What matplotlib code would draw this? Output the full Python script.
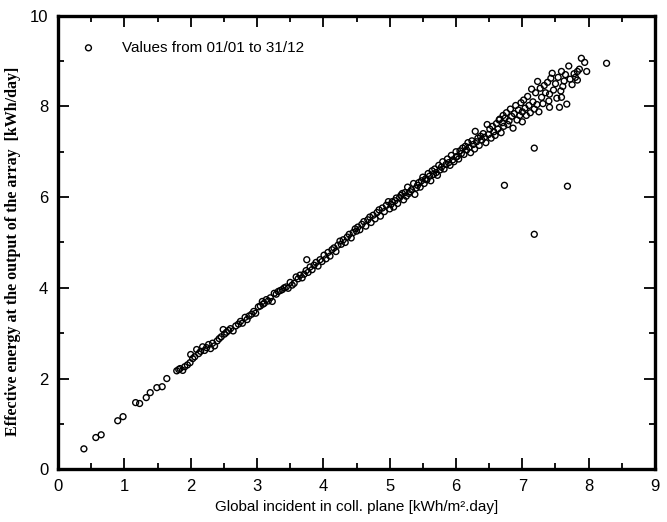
import matplotlib
matplotlib.use("Agg")
import matplotlib.pyplot as plt
from matplotlib.ticker import MultipleLocator

# daily values: global incident irradiation vs. effective array output energy
incident = [
    0.39, 0.57, 0.65, 0.90, 0.98, 1.17, 1.23, 1.33, 1.39, 1.49, 1.57, 1.64, 1.79,
    1.82, 1.84, 1.88, 1.91, 1.95, 1.99, 2.00, 2.03, 2.06, 2.09, 2.12, 2.15,
    2.18, 2.21, 2.24, 2.27, 2.30, 2.33, 2.36, 2.40, 2.43, 2.46, 2.49, 2.51, 2.54,
    2.57, 2.60, 2.64, 2.68, 2.72, 2.75, 2.78, 2.82, 2.85, 2.88, 2.92, 2.95, 2.98,
    3.02, 3.05, 3.08, 3.09, 3.11, 3.14, 3.17, 3.20, 3.23, 3.26, 3.29, 3.32, 3.35,
    3.38, 3.41, 3.44, 3.47, 3.50, 3.53, 3.56, 3.59, 3.62, 3.65, 3.68, 3.71, 3.74,
    3.75, 3.77, 3.80, 3.83, 3.86, 3.89, 3.92, 3.95, 3.98,
    4.01, 4.04, 4.07, 4.10, 4.13, 4.16, 4.19, 4.22, 4.25, 4.27, 4.30, 4.33, 4.36,
    4.39, 4.42, 4.45, 4.48, 4.50, 4.52, 4.55, 4.58, 4.61, 4.64, 4.67, 4.70, 4.72,
    4.75, 4.78, 4.81, 4.84, 4.86, 4.89, 4.92, 4.95, 4.98, 5.00,
    5.02, 5.04, 5.06, 5.08, 5.10, 5.12, 5.15, 5.17, 5.19, 5.21, 5.23, 5.25, 5.27,
    5.29, 5.31, 5.33, 5.36, 5.38, 5.40, 5.42, 5.44, 5.46, 5.48, 5.50, 5.52, 5.54,
    5.56, 5.58, 5.60, 5.62, 5.64, 5.66, 5.68, 5.70, 5.72, 5.74, 5.76, 5.78, 5.80,
    5.82, 5.85, 5.87, 5.89, 5.91, 5.93, 5.95, 5.97, 6.00, 6.00,
    6.02, 6.04, 6.06, 6.08, 6.10, 6.12, 6.14, 6.16, 6.18, 6.20, 6.22, 6.24, 6.26,
    6.28, 6.29, 6.31, 6.33, 6.35, 6.37, 6.39, 6.41, 6.43, 6.45, 6.47, 6.49, 6.51,
    6.53, 6.55, 6.57, 6.59, 6.61, 6.63, 6.65, 6.66, 6.68, 6.70, 6.71, 6.72, 6.73,
    6.74, 6.76, 6.78, 6.80, 6.82, 6.84, 6.86, 6.88, 6.90, 6.92, 6.94, 6.96, 6.98,
    7.00, 7.00,
    7.02, 7.04, 7.06, 7.08, 7.10, 7.12, 7.14, 7.16, 7.18, 7.18, 7.18, 7.20, 7.22,
    7.23, 7.25, 7.27, 7.29, 7.31, 7.33, 7.35, 7.38, 7.40, 7.41, 7.41, 7.43, 7.45,
    7.47, 7.50, 7.52, 7.54, 7.56, 7.58, 7.59, 7.59, 7.61, 7.63, 7.65, 7.67, 7.68,
    7.70, 7.72, 7.75, 7.78, 7.80, 7.83, 7.83, 7.86, 7.89, 7.94, 7.97, 8.27,
]
energy = [
    0.45, 0.70, 0.76, 1.07, 1.16, 1.47, 1.45, 1.58, 1.69, 1.80, 1.82, 2.00, 2.17,
    2.20, 2.22, 2.18, 2.26, 2.30, 2.35, 2.53, 2.44, 2.48, 2.64, 2.55, 2.60,
    2.70, 2.62, 2.68, 2.75, 2.66, 2.78, 2.72, 2.83, 2.88, 2.92, 3.08, 2.98, 3.02,
    3.06, 3.10, 3.05, 3.16, 3.20, 3.26, 3.22, 3.35, 3.30, 3.38, 3.42, 3.48, 3.44,
    3.58, 3.60, 3.70, 3.64, 3.66, 3.74, 3.71, 3.78, 3.70, 3.88, 3.86, 3.92, 3.94,
    3.96, 4.00, 4.02, 3.99, 4.12, 4.06, 4.10, 4.24, 4.20, 4.28, 4.22, 4.30, 4.38,
    4.62, 4.34, 4.46, 4.40, 4.50, 4.56, 4.48, 4.62, 4.58,
    4.72, 4.64, 4.78, 4.70, 4.84, 4.88, 4.80, 4.94, 5.03, 4.96, 5.06, 5.00, 5.12,
    5.18, 5.10, 5.22, 5.30, 5.25, 5.34, 5.28, 5.40, 5.46, 5.36, 5.50, 5.56, 5.44,
    5.60, 5.52, 5.66, 5.72, 5.58, 5.76, 5.68, 5.82, 5.90, 5.74,
    5.84, 5.90, 5.78, 5.92, 5.98, 5.86, 5.99, 6.04, 6.08, 5.94, 6.10, 6.02, 6.22,
    6.08, 6.12, 6.16, 6.30, 6.06, 6.20, 6.26, 6.32, 6.22, 6.36, 6.44, 6.30, 6.40,
    6.38, 6.52, 6.46, 6.36, 6.58, 6.50, 6.62, 6.54, 6.48, 6.70, 6.60, 6.66, 6.78,
    6.62, 6.72, 6.84, 6.76, 6.70, 6.92, 6.82, 6.78, 7.00, 6.88,
    6.90, 6.84, 7.02, 6.96, 7.08, 6.94, 7.12, 7.04, 7.20, 7.10, 6.98, 7.24, 7.16,
    7.06, 7.45, 7.22, 7.30, 7.14, 7.34, 7.26, 7.40, 7.32, 7.20, 7.60, 7.38, 7.50,
    7.30, 7.56, 7.44, 7.36, 7.62, 7.50, 7.70, 7.72, 7.42, 7.64, 7.80, 7.56, 6.26,
    7.74, 7.86, 7.60, 7.68, 7.94, 7.78, 7.52, 7.84, 8.02, 7.70, 7.92, 7.80, 8.08,
    7.88, 7.66,
    8.14, 7.96, 7.80, 8.22, 8.02, 7.86, 8.38, 8.10, 7.94, 7.08, 5.18, 8.30, 8.04,
    8.55, 7.88, 8.40, 8.20, 8.06, 8.46, 8.30, 8.53, 8.12, 8.27, 7.98, 8.62, 8.73,
    8.36, 8.50, 8.18, 8.64, 7.98, 8.34, 8.77, 8.20, 8.44, 8.56, 8.70, 8.05, 6.24,
    8.89, 8.60, 8.48, 8.72, 8.64, 8.77, 8.58, 8.82, 9.06, 8.97, 8.77, 8.95,
]

legend_label = "Values from 01/01 to 31/12"
x_label = "Global incident in coll. plane [kWh/m\u00b2.day]"
y_label = "Effective energy at the output of the array  [kWh/day]"

sans = ["Liberation Sans", "DejaVu Sans"]

fig = plt.figure(figsize=(6.67, 5.22), dpi=100)
ax = fig.add_axes([0.087, 0.101, 0.895, 0.869])

ax.scatter(incident, energy, s=18, marker="o", facecolors="none",
           edgecolors="black", linewidths=1.0, label=legend_label, zorder=3)

ax.set_xlim(0, 9)
ax.set_ylim(0, 10)
ax.xaxis.set_major_locator(MultipleLocator(1))
ax.xaxis.set_minor_locator(MultipleLocator(0.5))
ax.yaxis.set_major_locator(MultipleLocator(2))
ax.yaxis.set_minor_locator(MultipleLocator(1))
ax.tick_params(which="both", direction="in", top=True, right=True, width=1.3)
ax.tick_params(which="major", length=8, pad=7, labelsize=12)
ax.tick_params(which="minor", length=4)
for lbl in ax.get_xticklabels() + ax.get_yticklabels():
    lbl.set_family(sans)
for sp in ax.spines.values():
    sp.set_linewidth(2.4)

ax.set_xlabel(x_label, family=sans, fontsize=11, labelpad=4)
ax.set_ylabel(y_label, family=["Liberation Serif", "DejaVu Serif"],
              fontsize=11.5, fontweight="bold")
ax.yaxis.set_label_coords(-0.062, 0.48)

ax.legend(loc="upper left", bbox_to_anchor=(-0.013, 0.995), frameon=False,
          prop={"family": sans, "size": 11}, handletextpad=1.2,
          borderaxespad=1.1, markerscale=1.0)

fig.savefig("out.png", dpi=100)
